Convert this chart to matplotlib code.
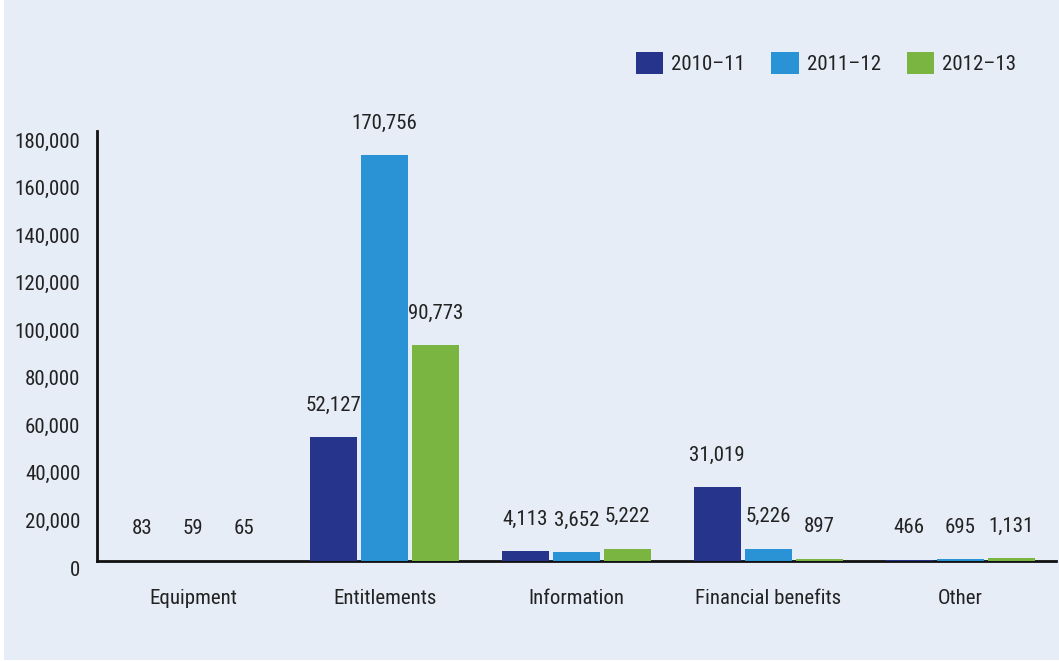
import os
import matplotlib
matplotlib.use("Agg")
import matplotlib.pyplot as plt
import matplotlib.patches as mpatches
import matplotlib.transforms as mtransforms
import numpy as np
from matplotlib import font_manager

# ---- data -------------------------------------------------------------
categories = ["Equipment", "Entitlements", "Information", "Financial benefits", "Other"]
series_names = ["2010\u201311", "2011\u201312", "2012\u201313"]
values_2010_11 = [83, 52127, 4113, 31019, 466]
values_2011_12 = [59, 170756, 3652, 5226, 695]
values_2012_13 = [65, 90773, 5222, 897, 1131]
y_ticks = [0, 20000, 40000, 60000, 80000, 100000, 120000, 140000, 160000, 180000]

series_values = [values_2010_11, values_2011_12, values_2012_13]
colors = ["#27348B", "#2A93D5", "#7AB441"]
bg = "#E6EDF7"
text_color = "#222222"


# ---- fonts: prefer a condensed sans face ------------------------------
def pick_font():
    files = {os.path.basename(f.fname).lower(): f.fname for f in font_manager.fontManager.ttflist}
    wanted = ["liberationsansnarrow-regular.ttf", "robotocondensed-regular.ttf",
              "dejavusanscondensed.ttf", "opensans_condensed-regular.ttf",
              "opensans-condensedregular.ttf", "notosans-condensed.ttf",
              "notosans-condensedregular.ttf"]
    for w in wanted:
        if w in files:
            return font_manager.FontProperties(fname=files[w]), True
    for name, path in files.items():
        if ("condensed" in name or "narrow" in name) and "bold" not in name \
                and "italic" not in name and "light" not in name and "oblique" not in name:
            return font_manager.FontProperties(fname=path), True
    return font_manager.FontProperties(family="Liberation Sans"), False


fp, narrow = pick_font()
fs = 15 if narrow else 13
fp.set_size(fs)

# ---- figure -----------------------------------------------------------
W, H = 1059, 661
fig = plt.figure(figsize=(W / 100, H / 100), dpi=100)
fig.patch.set_facecolor("white")
fig.patches.append(mpatches.Rectangle((4 / W, 1 / H), 1 - 4 / W, 1 - 1 / H,
                                      transform=fig.transFigure,
                                      facecolor=bg, edgecolor="none", zorder=-10))

ax = fig.add_axes([97 / W, 100 / H, 959 / W, 430.4 / H])
ax.set_facecolor("none")

x = np.arange(len(categories))
step = 0.266
width = 0.245
for i, (name, vals, col) in enumerate(zip(series_names, series_values, colors)):
    pos = x + (i - 1) * step
    bars = ax.bar(pos, vals, width=width, color=col, label=name, zorder=3)
    for rect, v in zip(bars, vals):
        ax.annotate(f"{v:,}", (rect.get_x() + rect.get_width() / 2, v),
                    xytext=(0, 32), textcoords="offset pixels",
                    ha="center", va="center", fontproperties=fp, color=text_color)

ax.set_xlim(-0.5, 4.5)
ax.set_ylim(0, 181000)
ax.set_yticks(y_ticks)
ax.set_yticklabels([f"{t:,}" for t in y_ticks])
ax.set_xticks(x)
ax.set_xticklabels(categories)
ax.tick_params(axis="y", length=0, pad=12, labelcolor=text_color)
ax.tick_params(axis="x", length=0, pad=20, labelcolor=text_color)
for lbl in ax.get_yticklabels() + ax.get_xticklabels():
    lbl.set_fontproperties(fp)

# y labels sit a little below their gridline positions
shift = mtransforms.ScaledTranslation(0, -7 / 100, fig.dpi_scale_trans)
for lbl in ax.get_yticklabels():
    lbl.set_transform(lbl.get_transform() + shift)

for side in ["top", "right"]:
    ax.spines[side].set_visible(False)
for side in ["left", "bottom"]:
    ax.spines[side].set_color("#111111")
    ax.spines[side].set_linewidth(2)
    ax.spines[side].set_zorder(2)

handles = [mpatches.Patch(facecolor=c, edgecolor="none") for c in colors]
fig.legend(handles, series_names, loc="center left",
           bbox_to_anchor=(636 / W, 1 - 63 / H), frameon=False, ncol=3,
           prop=fp, handlelength=1.3, handleheight=1.3,
           handletextpad=0.4, columnspacing=1.25, borderpad=0, borderaxespad=0,
           labelcolor=text_color)

fig.savefig("out.png", dpi=100, facecolor=fig.get_facecolor())
